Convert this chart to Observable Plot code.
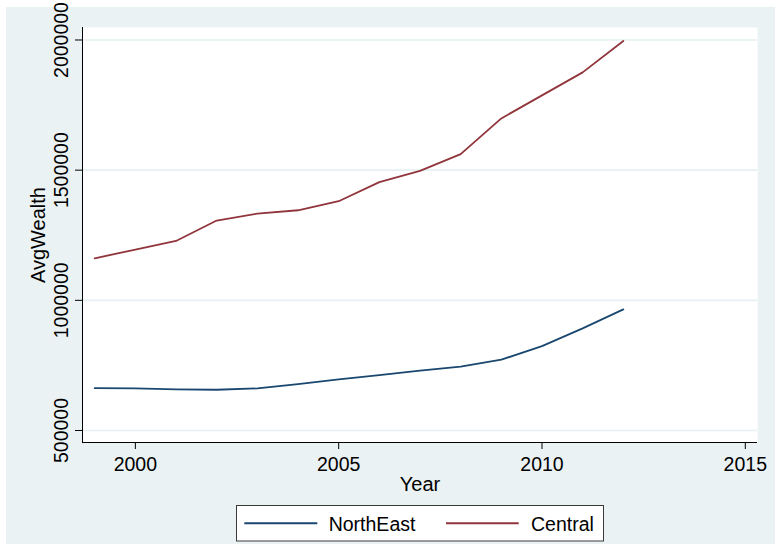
<!DOCTYPE html>
<html>
<head>
<meta charset="utf-8">
<script src="https://cdn.jsdelivr.net/npm/d3@7"></script>
<script src="https://cdn.jsdelivr.net/npm/@observablehq/plot@0.6"></script>
<style>
  html, body { margin: 0; padding: 0; background: #ffffff; }
  body { width: 775px; height: 544px; position: relative; overflow: hidden;
         font-family: "Liberation Sans", Arial, sans-serif; }
  #bg { position: absolute; left: 6px; top: 7px; width: 769px; height: 537px; background: #eaf2f3; }
  #chart { position: absolute; left: 0; top: 0; }
  #legend { position: absolute; left: 0; top: 0; }
</style>
</head>
<body>
<div id="bg"></div>
<div id="chart"></div>
<div id="legend"></div>
<script>
// Average wealth by region, 1999–2012
const years = [1999, 2000, 2001, 2002, 2003, 2004, 2005, 2006, 2007, 2008, 2009, 2010, 2011, 2012];
const northEast = [662700, 661600, 657800, 656600, 661600, 678200, 696200, 712800, 729700, 745000, 771900, 824300, 892300, 965400];
const central = [1161600, 1195000, 1228100, 1306500, 1333300, 1346000, 1380800, 1453900, 1497400, 1561600, 1698800, 1787300, 1875700, 1996000];

const seriesNames = ["NorthEast", "Central"];
const seriesColors = ["#1a476f", "#90353b"];

const xTicks = [2000, 2005, 2010, 2015];
const yTicks = [500000, 1000000, 1500000, 2000000];

const xDomain = [1998.7, 2015.3];
const yDomain = [453900, 2048000];

const rows = [
  ...years.map((year, i) => ({year, value: northEast[i], region: seriesNames[0]})),
  ...years.map((year, i) => ({year, value: central[i], region: seriesNames[1]}))
];

const font = "'Liberation Sans', Arial, sans-serif";

const chart = Plot.plot({
  width: 775,
  height: 500,
  marginLeft: 82,
  marginRight: 18,
  marginTop: 27,
  marginBottom: 58,
  style: {background: "transparent", fontFamily: font, fontSize: "19.5px", color: "#000", overflow: "visible"},
  x: {domain: xDomain},
  y: {domain: yDomain},
  color: {domain: seriesNames, range: seriesColors},
  marks: [
    // white plot region
    Plot.frame({fill: "white", stroke: "none"}),
    // horizontal grid at each labelled value
    Plot.ruleY(yTicks, {stroke: "#e6eff1", strokeWidth: 1.6}),
    Plot.line(rows, {x: "year", y: "value", z: "region", stroke: "region", strokeWidth: 1.8}),
    // axis lines
    Plot.ruleX([xDomain[0]], {stroke: "#000", strokeWidth: 1}),
    Plot.ruleY([yDomain[0]], {stroke: "#000", strokeWidth: 1}),
    Plot.axisX({ticks: xTicks, tickSize: 7, tickPadding: 8, tickFormat: d => String(d), label: null, fontSize: 19.5}),
    Plot.axisY({ticks: yTicks, tickSize: 7, tickPadding: 8, tickRotate: -90, tickFormat: d => String(d), label: null, fontSize: 19.5}),
    // axis titles
    Plot.text(["Year"], {frameAnchor: "bottom", lineAnchor: "middle", textAnchor: "middle", dy: 42, fontSize: 20, fill: "#000"}),
    Plot.text(["AvgWealth"], {frameAnchor: "left", lineAnchor: "middle", textAnchor: "middle", rotate: -90, dx: -43.5, fontSize: 20, fill: "#000"})
  ]
});
document.getElementById("chart").appendChild(chart);

// Legend box below the plot
const legend = d3.select("#legend").append("svg")
  .attr("width", 775).attr("height", 544)
  .style("overflow", "visible");
legend.append("rect")
  .attr("x", 236.5).attr("y", 505.5).attr("width", 367).attr("height", 35.5)
  .attr("fill", "#fff").attr("stroke", "#3a3a3a").attr("stroke-width", 1);
const items = [
  {x1: 244.3, x2: 317.3, tx: 328.7},
  {x1: 446, x2: 518.7, tx: 531}
];
items.forEach((it, i) => {
  legend.append("line")
    .attr("x1", it.x1).attr("x2", it.x2).attr("y1", 523.3).attr("y2", 523.3)
    .attr("stroke", seriesColors[i]).attr("stroke-width", 2);
  legend.append("text")
    .attr("x", it.tx).attr("y", 530.7)
    .attr("font-family", font).attr("font-size", 19.5).attr("fill", "#000")
    .text(seriesNames[i]);
});
</script>
</body>
</html>
